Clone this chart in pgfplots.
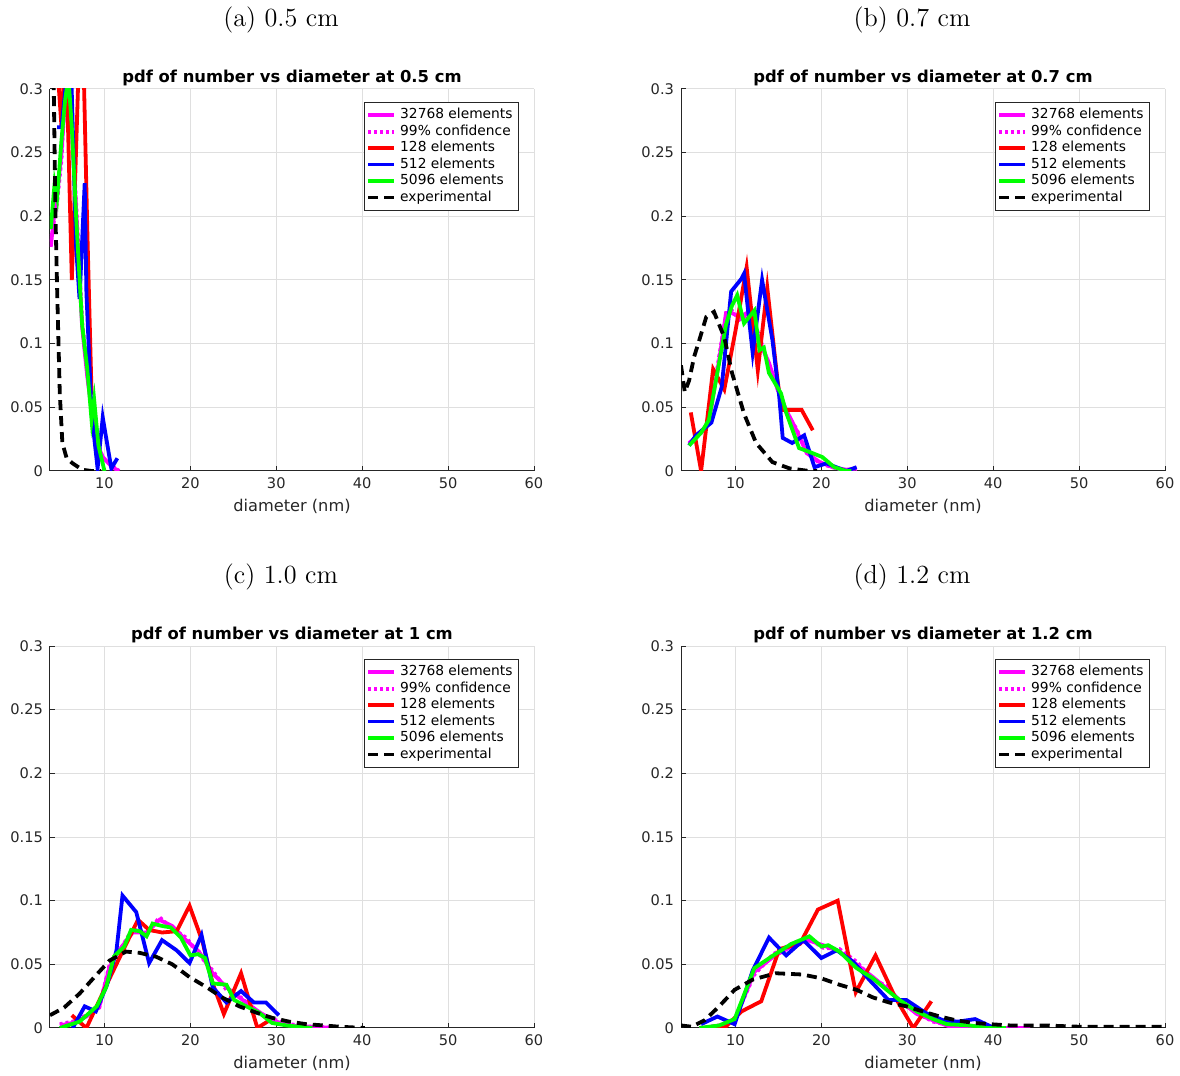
\documentclass[border=0pt]{standalone}
\usepackage{fontspec}
\usepackage{pgfplots}
\pgfplotsset{compat=1.18}
\newfontfamily\dejavu{DejaVu Sans}
\definecolor{axgray}{HTML}{262626}
\definecolor{gridgray}{HTML}{DFDFDF}
\definecolor{mlmag}{HTML}{FF00FF}
\definecolor{mlred}{HTML}{FF0000}
\definecolor{mlblue}{HTML}{0000FF}
\definecolor{mlgreen}{HTML}{00FF00}

\pgfplotsset{
  pdfax/.style={
    scale only axis, width=242pt, height=191pt,
    xmin=3.66, xmax=60, ymin=0, ymax=0.3,
    xtick={10,20,30,40,50,60},
    ytick={0,0.05,0.1,0.15,0.2,0.25,0.3},
    axis x line*=bottom, axis y line*=left,
    grid=major, grid style={color=gridgray, line width=0.5pt},
    tick align=inside, major tick length=2.5pt,
    axis line style={color=axgray, line width=0.5pt},
    tick style={color=axgray, line width=0.5pt},
    /pgf/number format/assume math mode=true,
    ticklabel style={font=\dejavu\fontsize{7.3}{8.5}\selectfont, color=axgray},
    yticklabel style={/pgf/number format/fixed, /pgf/number format/precision=2},
    scaled y ticks=false,
    xlabel={diameter (nm)},
    xlabel style={font=\dejavu\fontsize{8.1}{9.5}\selectfont, color=axgray, yshift=2pt},
    title style={font=\dejavu\bfseries\fontsize{8.2}{9.5}\selectfont, yshift=-8pt},
    legend style={at={(1,1)}, xshift=-7.5pt, yshift=-6.5pt, anchor=north east,
      font=\dejavu\fontsize{6.9}{8}\selectfont, draw=axgray, line width=0.4pt,
      inner sep=1pt, row sep=-2.5pt},
    legend cell align=left,
    legend image code/.code={\draw[#1] (0pt,0pt) -- (13pt,0pt);},
  },
  mag/.style={color=mlmag, line width=1.9pt},
  conf/.style={color=mlmag, line width=1.9pt, dash pattern=on 1.5pt off 1.5pt},
  rd/.style={color=mlred, line width=1.9pt},
  bl/.style={color=mlblue, line width=1.9pt},
  gr/.style={color=mlgreen, line width=1.9pt},
  ex/.style={color=black, line width=1.9pt, dash pattern=on 5pt off 3pt},
}

\newcommand{\legs}{\legend{32768 elements,99\% confidence,128 elements,512 elements,5096 elements,experimental}}

\begin{document}
\begin{tikzpicture}
\useasboundingbox (-25pt,-302.5pt) rectangle (565pt,235.5pt);

% (a) 0.5 cm
\begin{axis}[pdfax, at={(0pt,0pt)}, title={pdf of number vs diameter at 0.5 cm}]
\addplot[mag] coordinates {(3.75,0.176)(4.2,0.205)(4.5,0.218)(5.0,0.25)(5.3,0.281)(5.8,0.31)(6.2,0.27)(6.7,0.205)(7.4,0.113)(8.0,0.074)(8.5,0.048)(9.1,0.022)(9.8,0.011)(10.9,0.003)(11.7,0.0)};
\addplot[conf] coordinates {(3.75,0.18)(4.2,0.2)(4.5,0.212)(5.0,0.245)(5.3,0.285)(5.8,0.315)(6.2,0.275)(6.7,0.21)(7.4,0.118)(8.0,0.078)(8.5,0.05)(9.1,0.025)(9.8,0.01)(10.9,0.004)(11.7,0.0)};
\addplot[rd] coordinates {(4.2,0.35)(5.0,0.27)(5.5,0.34)(6.2,0.15)(6.5,0.21)(7.1,0.34)(7.6,0.31)(8.0,0.19)(8.5,0.06)};
\addplot[bl] coordinates {(4.5,0.27)(5.0,0.27)(5.6,0.31)(6.1,0.32)(6.7,0.176)(7.1,0.135)(7.7,0.226)(7.9,0.14)(8.5,0.045)(9.2,0.002)(9.8,0.042)(10.8,0.002)(11.5,0.01)};
\addplot[gr] coordinates {(3.75,0.19)(4.2,0.226)(4.5,0.215)(5.0,0.26)(5.4,0.29)(5.8,0.31)(6.2,0.27)(6.7,0.2)(7.4,0.115)(8.0,0.08)(8.5,0.04)(8.8,0.056)(9.3,0.02)(10.0,0.0)};
\addplot[ex] coordinates {(3.75,0.42)(4.1,0.30)(4.3,0.2)(4.5,0.14)(4.8,0.061)(5.1,0.022)(5.6,0.01)(6.3,0.006)(7.4,0.001)(8.5,0)(9.6,0)};
\legs
\end{axis}

% (b) 0.7 cm
\begin{axis}[pdfax, at={(315.5pt,0pt)}, title={pdf of number vs diameter at 0.7 cm}]
\addplot[mag] coordinates {(4.6,0.022)(6.0,0.03)(6.9,0.038)(8.1,0.087)(8.9,0.124)(9.6,0.124)(10.5,0.121)(11.3,0.124)(12.0,0.119)(13.1,0.097)(13.9,0.085)(14.9,0.064)(15.9,0.048)(17.1,0.032)(18.3,0.014)(19.8,0.007)(21.3,0.003)(22.9,0.001)(24.1,0.002)};
\addplot[conf] coordinates {(4.6,0.021)(6.0,0.031)(6.9,0.037)(8.1,0.09)(8.9,0.122)(9.6,0.126)(10.5,0.119)(11.3,0.122)(12.0,0.121)(13.1,0.099)(13.9,0.083)(14.9,0.066)(15.9,0.046)(17.1,0.033)(18.3,0.015)(19.8,0.006)(21.3,0.003)(22.9,0.0)(24.1,0.001)};
\addplot[rd] coordinates {(4.8,0.046)(6.0,0.0)(7.4,0.08)(8.7,0.064)(10.0,0.11)(11.3,0.16)(12.6,0.079)(13.7,0.144)(14.9,0.071)(15.4,0.048)(17.7,0.048)(19.0,0.032)};
\addplot[bl] coordinates {(4.6,0.02)(5.4,0.028)(7.2,0.038)(8.4,0.066)(9.5,0.141)(10.7,0.151)(11.0,0.155)(12.0,0.093)(13.1,0.15)(14.3,0.103)(15.1,0.058)(15.5,0.026)(16.6,0.022)(18.0,0.028)(19.2,0.003)(20.6,0.006)(22.1,0.002)(22.9,0.0)(24.1,0.003)};
\addplot[gr] coordinates {(4.6,0.02)(6.0,0.03)(6.9,0.04)(8.1,0.085)(8.9,0.115)(9.6,0.13)(10.2,0.138)(11.0,0.116)(12.2,0.126)(12.8,0.095)(13.3,0.097)(13.9,0.077)(15.3,0.061)(15.9,0.046)(17.4,0.018)(18.6,0.015)(20.1,0.011)(21.5,0.003)(22.9,0.0)(23.5,0.0)};
\addplot[ex] coordinates {(3.66,0.083)(4.1,0.062)(4.6,0.071)(5.2,0.09)(5.8,0.103)(6.6,0.121)(7.5,0.125)(8.7,0.105)(9.6,0.077)(11.0,0.045)(12.4,0.022)(14.3,0.007)(16.3,0.002)(18.6,0.0)(19.5,0.0)};
\legs
\end{axis}

% (c) 1.0 cm
\begin{axis}[pdfax, at={(0pt,-278.5pt)}, title={pdf of number vs diameter at 1 cm}]
\addplot[mag] coordinates {(4.8,0.002)(6.3,0.004)(7.9,0.009)(9.4,0.017)(10.6,0.048)(11.7,0.061)(13.3,0.075)(14.9,0.075)(16.4,0.085)(17.9,0.08)(19.5,0.069)(21.0,0.06)(22.6,0.043)(24.2,0.032)(25.7,0.024)(27.7,0.014)(29.5,0.006)(31.5,0.002)(34.1,0.001)(36.8,0.0)};
\addplot[conf] coordinates {(4.8,0.003)(6.3,0.005)(7.9,0.01)(9.4,0.016)(10.6,0.05)(11.7,0.06)(13.3,0.078)(14.9,0.073)(16.4,0.087)(17.9,0.078)(19.5,0.071)(21.0,0.058)(22.6,0.045)(24.2,0.03)(25.7,0.025)(27.7,0.013)(29.5,0.007)(31.5,0.003)(34.1,0.001)(36.8,0.0)};
\addplot[rd] coordinates {(6.2,0.01)(7.9,0.0)(10.6,0.039)(12.1,0.06)(13.9,0.085)(15.2,0.077)(16.7,0.075)(18.4,0.076)(19.9,0.096)(21.4,0.068)(22.6,0.035)(23.9,0.011)(25.9,0.043)(27.8,0.0)(29.2,0.006)};
\addplot[bl] coordinates {(6.3,0.0)(7.7,0.017)(9.0,0.013)(10.3,0.034)(11.4,0.061)(12.1,0.104)(13.7,0.091)(15.2,0.051)(16.7,0.069)(18.4,0.061)(19.9,0.051)(21.3,0.073)(22.6,0.032)(24.2,0.02)(25.9,0.029)(27.4,0.02)(28.8,0.02)(30.3,0.01)};
\addplot[gr] coordinates {(4.8,0.0)(7.1,0.005)(9.1,0.017)(10.2,0.032)(11.1,0.056)(12.3,0.064)(13.1,0.077)(14.1,0.076)(14.9,0.072)(15.6,0.082)(16.8,0.08)(17.7,0.079)(18.9,0.071)(20.0,0.057)(20.9,0.058)(21.7,0.055)(22.6,0.035)(24.2,0.034)(25.1,0.022)(26.5,0.017)(28.0,0.012)(29.5,0.004)(31.2,0.002)(32.7,0.001)(34.2,0.0)};
\addplot[ex] coordinates {(3.66,0.01)(5.3,0.016)(7.1,0.027)(9.1,0.042)(10.6,0.053)(12.5,0.06)(14.1,0.059)(16.0,0.056)(17.9,0.05)(19.9,0.04)(21.9,0.032)(23.7,0.024)(25.7,0.017)(27.7,0.012)(29.5,0.008)(31.5,0.005)(33.5,0.003)(35.5,0.002)(37.4,0.001)(40.3,0.0)};
\legs
\end{axis}

% (d) 1.2 cm
\begin{axis}[pdfax, at={(315.5pt,-278.5pt)}, title={pdf of number vs diameter at 1.2 cm}]
\addplot[mag] coordinates {(5.8,0.0)(8.1,0.001)(9.9,0.006)(12.2,0.044)(14.4,0.056)(16.5,0.064)(18.4,0.069)(20.2,0.065)(22.1,0.06)(24.1,0.05)(26.0,0.04)(27.6,0.031)(29.1,0.022)(31.1,0.011)(33.0,0.006)(35.0,0.001)(37.3,0.001)(40.0,0.0)(44.3,0.0)};
\addplot[conf] coordinates {(5.8,0.0)(8.1,0.002)(9.9,0.007)(12.2,0.042)(14.4,0.058)(16.5,0.066)(18.4,0.071)(20.2,0.063)(22.1,0.062)(24.1,0.052)(26.0,0.038)(27.6,0.033)(29.1,0.021)(31.1,0.012)(33.0,0.005)(35.0,0.002)(37.3,0.0)(40.0,0.0)(44.3,0.0)};
\addplot[rd] coordinates {(6.6,0.0)(8.7,0.0)(10.7,0.013)(13.0,0.021)(15.1,0.062)(17.5,0.066)(19.6,0.093)(21.9,0.1)(24.0,0.028)(26.3,0.057)(28.6,0.024)(30.7,0.0)(32.8,0.021)};
\addplot[bl] coordinates {(6.0,0.003)(7.9,0.009)(9.9,0.003)(12.0,0.045)(13.9,0.071)(15.9,0.057)(17.9,0.069)(20.0,0.055)(21.8,0.061)(23.7,0.052)(25.7,0.037)(27.8,0.022)(29.9,0.022)(32.1,0.012)(34.2,0.006)(35.9,0.005)(37.9,0.007)(39.8,0.001)};
\addplot[gr] coordinates {(5.8,0.0)(8.1,0.002)(9.9,0.007)(12.2,0.047)(14.4,0.057)(16.5,0.066)(18.6,0.072)(20.0,0.064)(20.8,0.065)(22.1,0.06)(24.1,0.047)(26.0,0.039)(27.6,0.03)(29.1,0.022)(31.1,0.013)(33.0,0.007)(34.6,0.003)(37.3,0.002)(39.3,0.0)(41.5,0.0)};
\addplot[ex] coordinates {(3.66,0.002)(4.9,0.001)(6.4,0.006)(8.1,0.017)(9.9,0.03)(12.0,0.038)(14.7,0.043)(17.8,0.042)(20.0,0.039)(22.1,0.034)(24.1,0.03)(26.0,0.024)(27.9,0.02)(29.9,0.017)(31.8,0.013)(33.8,0.009)(35.7,0.006)(37.7,0.004)(39.6,0.003)(42.0,0.002)(46.0,0.002)(50.0,0.001)(55.0,0.001)(60.0,0.001)};
\legs
\end{axis}

\node[font=\fontsize{13.1}{15.5}\selectfont] at (115.5pt,225.5pt) {(a) 0.5 cm};
\node[font=\fontsize{13.1}{15.5}\selectfont] at (431pt,225.5pt) {(b) 0.7 cm};
\node[font=\fontsize{13.1}{15.5}\selectfont] at (115.5pt,-53pt) {(c) 1.0 cm};
\node[font=\fontsize{13.1}{15.5}\selectfont] at (431pt,-53pt) {(d) 1.2 cm};
\end{tikzpicture}
\end{document}
